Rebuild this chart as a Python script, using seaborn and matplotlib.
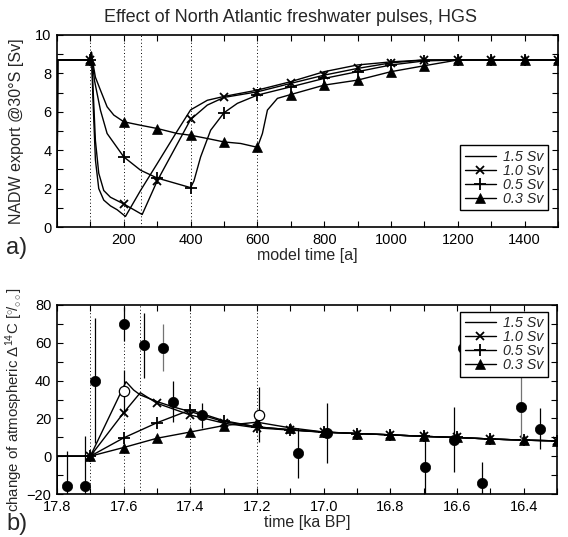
import numpy as np
import pandas as pd
import matplotlib
matplotlib.use("Agg")
import matplotlib.pyplot as plt
import seaborn as sns
from matplotlib.ticker import MultipleLocator, FixedLocator, FormatStrFormatter
from matplotlib.lines import Line2D

# ---------------- data: panel a (model time [a], NADW export [Sv]) ----------------
T15 = [0, 2, 100, 103, 108, 115, 125, 140, 160, 180, 205, 250, 300, 360, 400, 450, 500,
       600, 700, 800, 900, 1000, 1100, 1200, 1300, 1400, 1500]
V15 = [0.0, 8.7, 8.7, 9.1, 6.5, 3.5, 2.0, 1.4, 1.1, 0.9, 0.55, 1.9, 3.3, 5.0, 6.1, 6.6, 6.8,
       7.13, 7.57, 8.09, 8.44, 8.6, 8.7, 8.7, 8.7, 8.7, 8.7]

T10 = [0, 2, 100, 103, 108, 115, 125, 140, 160, 200, 230, 255, 300, 350, 400, 450, 500,
       600, 700, 800, 900, 1000, 1100, 1200, 1300, 1400, 1500]
V10 = [0.0, 8.7, 8.7, 9.1, 7.2, 4.5, 2.8, 1.9, 1.55, 1.2, 0.9, 0.65, 2.4, 4.0, 5.6, 6.35, 6.75,
       7.04, 7.48, 7.91, 8.26, 8.55, 8.7, 8.7, 8.7, 8.7, 8.7]

T05 = [0, 2, 100, 103, 112, 130, 150, 200, 250, 300, 350, 400, 410, 430, 460, 500, 540,
       600, 700, 800, 900, 1000, 1100, 1200, 1300, 1400, 1500]
V05 = [0.0, 8.7, 8.7, 9.1, 7.65, 6.09, 4.87, 3.65, 2.96, 2.55, 2.3, 2.05, 2.4, 3.65, 5.04, 5.95, 6.44,
       6.87, 7.3, 7.74, 8.09, 8.44, 8.65, 8.7, 8.7, 8.7, 8.7]

T03 = [0, 2, 100, 103, 115, 130, 150, 170, 200, 250, 300, 360, 400, 450, 500, 550, 600,
       615, 630, 660, 700, 800, 900, 1000, 1100, 1200, 1300, 1400, 1500]
V03 = [0.0, 8.7, 8.7, 9.0, 7.8, 7.13, 6.26, 5.83, 5.48, 5.3, 5.13, 4.87, 4.78, 4.61, 4.43, 4.35, 4.15,
       4.87, 6.09, 6.7, 6.9, 7.39, 7.65, 8.09, 8.4, 8.7, 8.7, 8.7, 8.7]

# ---------------- data: panel b (time [ka BP], change of atmospheric D14C [permil]) ----------------
K15 = [17.8, 17.799, 17.7, 17.593, 17.57, 17.55, 17.5, 17.45, 17.4, 17.3, 17.2, 17.1, 17.0,
       16.9, 16.8, 16.7, 16.6, 16.5, 16.4, 16.3]
D15 = [-20, 0, 0, 39.4, 35.0, 32.4, 28.9, 26.0, 23.6, 18.3, 15.5, 14.0, 12.8,
       12.0, 11.3, 10.5, 9.9, 9.1, 8.5, 8.1]

K10 = [17.8, 17.799, 17.7, 17.6, 17.55, 17.5, 17.4, 17.3, 17.2, 17.1, 17.0,
       16.9, 16.8, 16.7, 16.6, 16.5, 16.4, 16.3]
D10 = [-20, 0, 0, 23.0, 33.6, 28.0, 21.8, 17.5, 15.0, 13.8, 12.7,
       12.0, 11.3, 10.5, 9.9, 9.1, 8.5, 8.1]

K05 = [17.8, 17.799, 17.7, 17.6, 17.5, 17.4, 17.3, 17.2, 17.1, 17.0,
       16.9, 16.8, 16.7, 16.6, 16.5, 16.4, 16.3]
D05 = [-20, 0, 0, 9.7, 17.7, 24.5, 18.8, 15.5, 14.0, 12.7,
       12.0, 11.3, 10.5, 9.9, 9.1, 8.5, 8.1]

K03 = [17.8, 17.799, 17.7, 17.6, 17.5, 17.4, 17.3, 17.2, 17.1, 17.0,
       16.9, 16.8, 16.7, 16.6, 16.5, 16.4, 16.3]
D03 = [-20, 0, 0, 4.6, 9.5, 12.8, 16.2, 18.0, 15.0, 12.8,
       12.0, 11.3, 10.5, 9.9, 9.1, 8.5, 8.1]

# measured data (filled circles) with 1-sigma errors
OBS_KA = [17.771, 17.716, 17.686, 17.599, 17.539, 17.481, 17.453, 17.366, 17.076, 16.991,
          16.697, 16.609, 16.582, 16.524, 16.407, 16.35]
OBS_D = [-15.8, -15.8, 40.0, 70.2, 58.7, 57.5, 28.9, 21.7, 1.8, 12.4,
         -5.6, 8.8, 57.5, -14.1, 25.8, 14.6]
OBS_ERR = [18.4, 26.5, 33.0, 9.0, 17.2, 12.4, 11.0, 6.7, 13.3, 16.0,
           17.2, 17.2, 10.0, 11.0, 17.0, 10.8]
# open circles
OPEN_KA = [17.6, 17.193]
OPEN_D = [34.5, 21.9]
OPEN_ERR = [11.0, 14.5]

LABELS = ["1.5 Sv", "1.0 Sv", "0.5 Sv", "0.3 Sv"]
PULSE_T = [100, 200, 250, 400, 600]
PULSE_KA = [17.7, 17.6, 17.55, 17.4, 17.2]

# ---------------- style ----------------
sns.set_theme(style="ticks")
plt.rcParams["font.family"] = ["Liberation Sans", "DejaVu Sans"]
plt.rcParams["mathtext.fontset"] = "custom"
plt.rcParams["mathtext.rm"] = "Liberation Sans"
plt.rcParams["mathtext.it"] = "Liberation Sans:italic"
plt.rcParams["mathtext.bf"] = "Liberation Sans:bold"

W, H = 568, 537
fig = plt.figure(figsize=(W / 100, H / 100), dpi=100)
ax1 = fig.add_axes([57 / W, 1 - 227 / H, 501 / W, 192 / H])
ax2 = fig.add_axes([57 / W, 1 - 494 / H, 500 / W, 189 / H])

MSTY = {
    "1.5 Sv": dict(marker=None),
    "1.0 Sv": dict(marker="x", markersize=6, markeredgewidth=1.3),
    "0.5 Sv": dict(marker="+", markersize=9, markeredgewidth=1.3),
    "0.3 Sv": dict(marker="^", markersize=7.5, markeredgewidth=0.5),
}


def draw(ax, xs, ys, lab, mark_idx):
    st = MSTY[lab]
    kw = dict(color="black", linewidth=1.0, sort=False)
    if st["marker"] is not None:
        kw.update(marker=st["marker"], markersize=st["markersize"],
                  markeredgewidth=st["markeredgewidth"], markerfacecolor="black",
                  markeredgecolor="black", markevery=mark_idx)
    sns.lineplot(x=np.asarray(xs, float), y=np.asarray(ys, float), ax=ax, **kw)


# panel a
for xs, ys, lab in zip([T15, T10, T05, T03], [V15, V10, V05, V03], LABELS):
    idx = [i for i, t in enumerate(xs) if t >= 100 and t % 100 == 0]
    draw(ax1, xs, ys, lab, idx)
for t in PULSE_T:
    ax1.axvline(t, color="black", linewidth=0.7, linestyle=(0, (1, 2.5)), zorder=0)

ax1.set_xlim(0, 1500)
ax1.set_ylim(0, 10)
ax1.xaxis.set_major_locator(FixedLocator([200, 400, 600, 800, 1000, 1200, 1400]))
ax1.xaxis.set_minor_locator(MultipleLocator(100))
ax1.yaxis.set_major_locator(MultipleLocator(2))
ax1.yaxis.set_minor_locator(MultipleLocator(1))
ax1.set_xlabel("model time [a]", fontsize=11.5, labelpad=1)
ax1.set_ylabel("NADW export @30°S [Sv]", fontsize=11.5)
ax1.yaxis.set_label_coords(-0.066, 0.5)

# panel b
for xs, ys, lab in zip([K15, K10, K05, K03], [D15, D10, D05, D03], LABELS):
    idx = [i for i, k in enumerate(xs) if k <= 17.7001 and abs(k * 10 - round(k * 10)) < 1e-6]
    draw(ax2, xs, ys, lab, idx)
for k in PULSE_KA:
    ax2.axvline(k, color="black", linewidth=0.7, linestyle=(0, (1, 2.5)), zorder=0)

gray_bars = {5, 12, 14}
for i, (k, d, e) in enumerate(zip(OBS_KA, OBS_D, OBS_ERR)):
    ax2.errorbar([k], [d], yerr=[e], fmt="none", ecolor="0.45" if i in gray_bars else "black",
                 elinewidth=0.9, capsize=0, zorder=3)
for k, d, e in zip(OPEN_KA, OPEN_D, OPEN_ERR):
    ax2.errorbar([k], [d], yerr=[e], fmt="none", ecolor="black", elinewidth=0.9, capsize=0, zorder=3)
sns.scatterplot(x=OBS_KA, y=OBS_D, ax=ax2, color="black", s=55, edgecolor="black",
                linewidth=0.5, zorder=4)
sns.scatterplot(x=OPEN_KA, y=OPEN_D, ax=ax2, color="white", s=55, edgecolor="black",
                linewidth=0.9, zorder=4)

ax2.set_xlim(17.8, 16.3)
ax2.set_ylim(-20, 80)
ax2.xaxis.set_major_locator(MultipleLocator(0.2))
ax2.xaxis.set_minor_locator(MultipleLocator(0.1))
ax2.xaxis.set_major_formatter(FormatStrFormatter("%.1f"))
ax2.yaxis.set_major_locator(MultipleLocator(20))
ax2.yaxis.set_minor_locator(MultipleLocator(10))
ax2.set_xlabel("time [ka BP]", fontsize=11.5, labelpad=1)
ax2.set_ylabel(r"change of atmospheric $\Delta^{14}$C [$^{\circ}\!/_{\circ\circ}$]", fontsize=10.8)
ax2.yaxis.set_label_coords(-0.064, 0.5)

for ax in (ax1, ax2):
    ax.tick_params(which="both", direction="in", top=True, right=True, length=4,
                   width=0.8, labelsize=10.5, pad=4, colors="black")
    for sp in ax.spines.values():
        sp.set_linewidth(1.2)
        sp.set_color("black")
    ax.grid(False)


def handles():
    hs = []
    for lab in LABELS:
        st = MSTY[lab]
        if st["marker"] is None:
            hs.append(Line2D([], [], color="black", linewidth=1.0))
        else:
            hs.append(Line2D([], [], color="black", linewidth=1.0, marker=st["marker"],
                             markersize=st["markersize"], markeredgewidth=st["markeredgewidth"],
                             markerfacecolor="black", markeredgecolor="black"))
    return hs


legkw = dict(prop={"style": "italic", "size": 10.3}, frameon=True, fancybox=False,
             edgecolor="black", framealpha=1, numpoints=1, handlelength=2.2,
             labelspacing=0.0, borderpad=0.3, handletextpad=0.5, borderaxespad=0)
lg1 = ax1.legend(handles(), LABELS, loc="lower right", bbox_to_anchor=(0.98, 0.089), **legkw)
lg2 = ax2.legend(handles(), LABELS, loc="upper right", bbox_to_anchor=(0.982, 0.963), **legkw)
for lg in (lg1, lg2):
    lg.get_frame().set_linewidth(1.0)
    lg.set_zorder(10)

fig.text(290 / W, 1 - 18 / H, "Effect of North Atlantic freshwater pulses, HGS",
         ha="center", va="center", fontsize=13)
fig.text(6 / W, 1 - 248 / H, "a)", ha="left", va="center", fontsize=17)
fig.text(6 / W, 1 - 524 / H, "b)", ha="left", va="center", fontsize=17)

fig.savefig("out.png", dpi=100)
